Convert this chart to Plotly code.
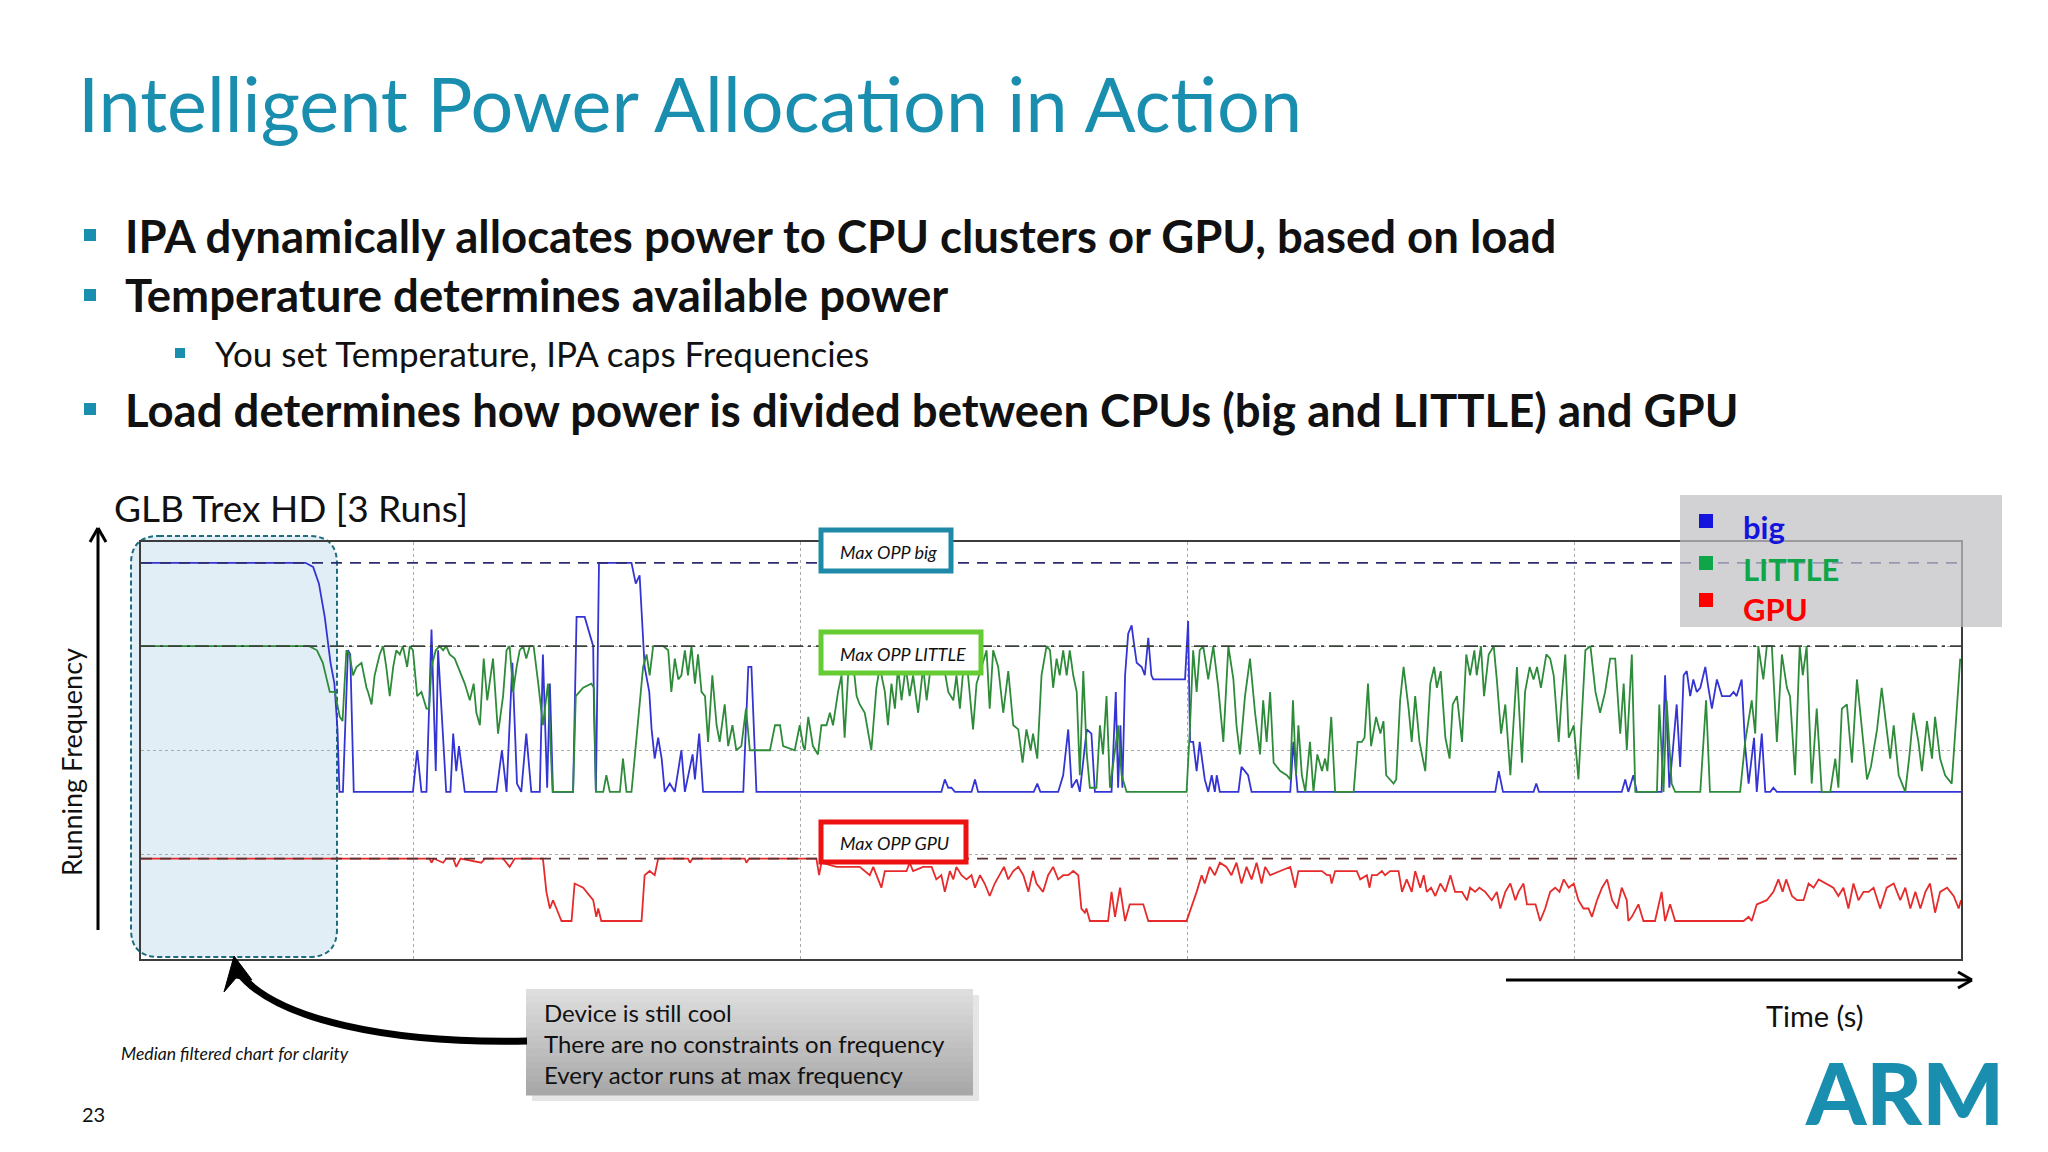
import plotly.graph_objects as go

# ---------------- data (time in s, normalised running frequency) ----------------
BIG_T = [29.5, 72, 74, 75.5, 77, 78.5, 79.5, 80.3, 80.8, 81.7, 83.0, 83.6, 84.5, 99.8, 100.9, 102.0,
         103.3, 104.6, 105.7, 106.3, 108.4, 109.5, 110.2, 111.0, 111.7, 113.2, 121.4, 122.8, 124.0,
         125.5, 126.7, 127.8, 129.1, 130.4, 132.6, 133.4, 134.5, 135.2, 136.0, 141.2, 142.1, 144.2,
         146.4, 146.6, 147.1, 147.9, 156.3, 157.4, 158.4, 159.7, 160.9, 161.5, 162.3, 163.2, 164.1,
         164.9, 166.2, 167.5, 169.2, 170.1, 172.1, 172.7, 173.8, 174.8, 185.2, 186.5, 187.3, 188.6,
         236.4, 237.3, 238.2, 239.0, 239.9, 244.2, 245.1, 245.9, 260.3, 261.2, 262.0, 266.6, 267.9,
         269.2, 270.1, 271.4, 272.2, 274.0, 275.2, 276.1, 280.4, 281.5, 282.1, 282.7, 283.2, 283.9,
         284.7, 285.6, 286.0, 286.9, 288.2, 289.0, 289.9, 290.7, 291.2, 299.4, 300.2, 300.7, 301.5,
         302.4, 303.2, 304.5, 305.4, 306.3, 307.1, 307.6, 308.4, 313.2, 314.0, 314.9, 315.7, 316.6,
         326.6, 327.4, 328.5, 379.6, 380.5, 381.6, 389.5, 390.2, 390.9, 412.3, 413.2, 414.0, 415.3,
         416.2, 422.6, 423.5, 424.6, 425.5, 426.5, 427.4, 428.3, 429.1, 430.0, 430.8, 431.7, 432.6,
         433.9, 434.7, 435.6, 436.9, 438.2, 440.3, 441.2, 442.0, 443.3, 444.2, 445.1, 446.5, 447.2,
         448.5, 449.4, 450.7, 451.5, 452.4, 500]
BIG_V = [0.95, 0.95, 0.94, 0.90, 0.82, 0.71, 0.66, 0.55, 0.40, 0.40, 0.74, 0.73, 0.40, 0.40, 0.50, 0.40,
         0.40, 0.79, 0.45, 0.74, 0.40, 0.40, 0.54, 0.45, 0.51, 0.40, 0.40, 0.50, 0.40,
         0.71, 0.42, 0.40, 0.54, 0.40, 0.40, 0.73, 0.41, 0.66, 0.40, 0.40, 0.82, 0.82,
         0.75, 0.60, 0.40, 0.95, 0.95, 0.90, 0.92, 0.70, 0.64, 0.55, 0.48, 0.53, 0.48,
         0.40, 0.42, 0.40, 0.50, 0.40, 0.49, 0.43, 0.54, 0.40, 0.40, 0.70, 0.70, 0.40,
         0.40, 0.43, 0.41, 0.41, 0.40, 0.40, 0.43, 0.40, 0.40, 0.42, 0.40, 0.40, 0.44,
         0.55, 0.41, 0.43, 0.40, 0.55, 0.54, 0.40, 0.40, 0.64, 0.41, 0.56, 0.41, 0.68,
         0.78, 0.80, 0.77, 0.71, 0.70, 0.68, 0.77, 0.68, 0.67, 0.67, 0.81, 0.52, 0.52,
         0.45, 0.52, 0.43, 0.40, 0.44, 0.40, 0.44, 0.40, 0.40, 0.46, 0.45, 0.44, 0.40,
         0.40, 0.52, 0.40, 0.40, 0.45, 0.40, 0.40, 0.42, 0.40, 0.40, 0.43, 0.40, 0.44,
         0.40, 0.40, 0.68, 0.41, 0.50, 0.61, 0.46, 0.68, 0.69, 0.63, 0.67, 0.64, 0.65,
         0.70, 0.65, 0.60, 0.67, 0.63, 0.63, 0.64, 0.63, 0.67, 0.51, 0.42, 0.53, 0.40,
         0.54, 0.40, 0.40, 0.41, 0.40, 0.40]

LITTLE_T = [29.5, 73, 75, 76.5, 78.3, 79.6, 80.9, 81.6, 82.6, 83.4, 84.3, 85.2, 86.5, 86.9, 87.8, 88.2,
            89.1, 89.9, 91.2, 92.1, 92.9, 93.8, 94.7, 95.5, 96.4, 97.2, 98.3, 99.0, 99.8, 100.9, 102.0,
            103.3, 104.0, 104.6, 105.7, 106.7, 107.6, 108.4, 109.3, 110.6, 111.9, 113.2, 114.5, 115.5,
            116.2, 117.1, 118.1, 119.0, 120.5, 121.8, 123.1, 124.0, 124.8, 125.7, 126.6, 127.4, 128.3,
            129.1, 130.0, 131.0, 132.2, 133.4, 134.7, 135.9, 141.2, 141.9, 143.8, 145.9, 146.6, 147.1,
            149.0, 149.8, 150.7, 153.3, 154.1, 155.0, 156.3, 158.0, 159.3, 160.2, 161.0, 161.9, 164.5,
            165.8, 166.6, 167.5, 168.4, 169.2, 170.1, 170.9, 171.8, 172.7, 173.5, 174.4, 175.3, 176.1,
            177.2, 178.3, 179.1, 180.4, 181.3, 182.4, 183.4, 184.7, 185.9, 186.9, 192.1, 193.4, 194.7,
            195.5, 198.5, 199.8, 200.7, 201.1, 202.0, 203.2, 204.5, 205.4, 206.7, 207.6, 208.4, 209.7,
            210.6, 211.4, 212.3, 213.6, 214.5, 215.3, 216.6, 218.3, 219.6, 220.5, 221.8, 222.6, 223.5,
            224.4, 225.2, 226.1, 227.2, 228.2, 229.1, 230.4, 231.7, 232.6, 233.9, 235.1, 236.9, 238.2,
            239.5, 240.3, 241.2, 242.5, 243.3, 244.6, 245.5, 246.8, 248.1, 248.9, 249.8, 251.1, 252.4,
            253.7, 255.0, 256.3, 257.4, 258.4, 259.5, 260.1, 261.2, 262.3, 263.6, 264.5, 265.3, 266.2,
            267.0, 267.9, 268.8, 269.6, 270.5, 271.4, 272.2, 273.1, 274.0, 274.8, 276.5, 277.4, 278.2,
            279.1, 280.0, 281.3, 282.1, 283.0, 284.3, 299.8, 300.7, 301.5, 302.4, 303.2, 304.1, 305.4,
            306.7, 308.0, 309.3, 310.6, 311.9, 312.7, 313.6, 314.9, 316.2, 317.5, 318.8, 319.6, 320.5,
            321.4, 322.3, 324.0, 325.7, 326.6, 327.3, 328.1, 328.7, 329.6, 330.5, 331.7, 332.6, 333.6,
            334.8, 335.6, 336.2, 337.2, 338.2, 343.0, 344.0, 345.1, 345.8, 346.7, 347.5, 348.8, 349.9,
            350.7, 351.4, 353.3, 354.0, 355.0, 355.9, 357.2, 358.0, 358.9, 360.0, 361.5, 362.8, 363.8,
            364.5, 365.5, 366.7, 367.8, 368.6, 369.7, 371.0, 372.1, 373.1, 374.2, 374.8, 375.9, 376.7,
            377.9, 379.2, 380.0, 381.1, 382.2, 383.5, 385.2, 386.5, 387.3, 388.5, 389.5, 390.4, 391.4,
            392.8, 393.8, 394.7, 396.0, 396.7, 397.7, 398.6, 399.9, 401.1, 402.9, 404.2, 405.5, 406.7,
            408.0, 409.3, 410.6, 411.9, 412.8, 413.6, 414.9, 415.8, 421.4, 422.0, 423.1, 423.9, 425.2,
            426.1, 432.6, 434.1, 435.1, 442.9, 444.2, 445.9, 446.8, 447.6, 448.9, 449.8, 451.1, 452.4,
            453.7, 455.0, 455.8, 457.1, 458.3, 459.1, 460.1, 461.4, 462.7, 464.0, 466.2, 467.5, 468.3,
            469.2, 470.5, 471.8, 473.1, 473.9, 474.8, 475.7, 476.7, 478.3, 479.5, 480.7, 481.7, 482.6,
            483.9, 485.6, 486.7, 487.7, 489.0, 489.9, 491.2, 492.5, 493.3, 494.6, 495.9, 497.6, 499.8]
LITTLE_V = [0.75, 0.75, 0.74, 0.71, 0.64, 0.64, 0.58, 0.57, 0.74, 0.73, 0.68, 0.70, 0.71, 0.69, 0.65, 0.64,
            0.61, 0.68, 0.73, 0.75, 0.70, 0.63, 0.70, 0.74, 0.73, 0.75, 0.70, 0.75, 0.74, 0.63, 0.64,
            0.60, 0.60, 0.70, 0.74, 0.75, 0.74, 0.75, 0.73, 0.72, 0.69, 0.66, 0.62, 0.66,
            0.59, 0.56, 0.72, 0.62, 0.72, 0.54, 0.63, 0.74, 0.75, 0.64, 0.70, 0.74, 0.75,
            0.72, 0.75, 0.75, 0.66, 0.56, 0.66, 0.40, 0.40, 0.63, 0.65, 0.66, 0.65, 0.40,
            0.40, 0.44, 0.40, 0.40, 0.48, 0.40, 0.40, 0.56, 0.70, 0.73, 0.68, 0.75, 0.75,
            0.74, 0.64, 0.72, 0.67, 0.68, 0.74, 0.68, 0.75, 0.66, 0.73, 0.64, 0.63, 0.52,
            0.68, 0.56, 0.52, 0.61, 0.51, 0.56, 0.50, 0.51, 0.60, 0.50, 0.50, 0.56, 0.56,
            0.51, 0.50, 0.56, 0.51, 0.50, 0.58, 0.51, 0.49, 0.56, 0.56, 0.59, 0.56, 0.64,
            0.68, 0.53, 0.68, 0.71, 0.63, 0.61, 0.59, 0.50, 0.65, 0.70, 0.64, 0.56, 0.66,
            0.60, 0.70, 0.62, 0.70, 0.63, 0.68, 0.59, 0.70, 0.62, 0.72, 0.74, 0.71, 0.64,
            0.62, 0.68, 0.60, 0.74, 0.68, 0.55, 0.66, 0.70, 0.74, 0.60, 0.74, 0.70, 0.59,
            0.69, 0.56, 0.55, 0.47, 0.55, 0.50, 0.54, 0.48, 0.68, 0.75, 0.74, 0.65, 0.72,
            0.68, 0.74, 0.68, 0.74, 0.68, 0.64, 0.44, 0.69, 0.49, 0.41, 0.41, 0.56, 0.49,
            0.63, 0.41, 0.50, 0.56, 0.44, 0.40, 0.40, 0.56, 0.74, 0.64, 0.74, 0.75, 0.67,
            0.75, 0.65, 0.52, 0.75, 0.67, 0.56, 0.49, 0.63, 0.72, 0.59, 0.49, 0.62, 0.52,
            0.64, 0.47, 0.45, 0.44, 0.43, 0.62, 0.44, 0.56, 0.44, 0.40, 0.52, 0.40, 0.49,
            0.45, 0.48, 0.45, 0.58, 0.40, 0.40, 0.52, 0.52, 0.53, 0.66, 0.51, 0.58, 0.54,
            0.57, 0.44, 0.42, 0.43, 0.62, 0.70, 0.60, 0.52, 0.63, 0.52, 0.45, 0.66, 0.70,
            0.65, 0.69, 0.53, 0.48, 0.61, 0.63, 0.52, 0.73, 0.68, 0.74, 0.68, 0.75, 0.63,
            0.73, 0.75, 0.67, 0.54, 0.61, 0.44, 0.70, 0.47, 0.64, 0.70, 0.67, 0.70, 0.65,
            0.73, 0.72, 0.68, 0.52, 0.62, 0.73, 0.53, 0.56, 0.43, 0.74, 0.75, 0.64, 0.59,
            0.64, 0.72, 0.72, 0.54, 0.66, 0.50, 0.73, 0.40, 0.40, 0.61, 0.40, 0.62, 0.42,
            0.40, 0.40, 0.62, 0.40, 0.40, 0.52, 0.62, 0.54, 0.75, 0.67, 0.75, 0.75, 0.52,
            0.73, 0.65, 0.63, 0.44, 0.75, 0.68, 0.75, 0.42, 0.60, 0.40, 0.40, 0.48, 0.41,
            0.60, 0.61, 0.47, 0.67, 0.60, 0.51, 0.43, 0.46, 0.55, 0.65, 0.55, 0.48, 0.56,
            0.44, 0.40, 0.49, 0.59, 0.52, 0.45, 0.57, 0.48, 0.58, 0.48, 0.44, 0.42, 0.72]

GPU_T = [29.5, 104.1, 104.6, 105.2, 107.6, 108.4, 110.2, 111.0, 112.1, 117.5, 118.4, 123.1, 124.8, 126.1,
         133.4, 134.3, 135.2, 136.0, 136.9, 138.2, 140.8, 141.6, 143.8, 146.4, 147.2, 147.7, 148.5, 158.9,
         159.7, 161.0, 162.3, 163.2, 170.9, 171.4, 172.1, 185.6, 186.0, 186.7, 199.8, 204.1, 204.8, 205.4,
         209.3, 215.3, 217.9, 218.8, 220.9, 221.8, 227.4, 228.2, 229.1, 231.7, 233.9, 235.1, 236.4, 237.3,
         238.6, 239.5, 240.3, 241.6, 242.9, 244.2, 245.1, 246.4, 247.6, 248.9, 250.2, 251.5, 252.6, 253.7,
         255.0, 256.3, 257.6, 258.9, 260.1, 261.0, 262.7, 264.0, 265.3, 266.6, 267.9, 269.2, 270.5, 271.8,
         272.6, 273.5, 273.9, 274.8, 279.5, 280.4, 281.3, 282.6, 283.9, 285.1, 288.6, 289.9, 299.8, 302.4,
         303.7, 304.5, 305.8, 307.1, 308.4, 310.1, 311.4, 312.7, 314.0, 315.3, 316.6, 317.9, 319.2, 320.1,
         321.4, 324.0, 326.6, 327.9, 328.7, 334.8, 336.1, 336.9, 337.3, 338.2, 343.8, 344.7, 346.4, 347.1,
         347.7, 349.0, 350.3, 351.1, 352.4, 354.6, 355.5, 356.7, 358.0, 358.9, 360.2, 361.1, 361.9, 363.0,
         364.1, 365.4, 366.7, 368.0, 369.2, 371.0, 372.3, 373.1, 374.4, 375.5, 377.0, 378.7, 380.0, 380.9,
         382.2, 383.5, 384.8, 385.6, 386.9, 387.8, 390.0, 391.2, 392.5, 393.8, 395.1, 396.2, 397.3, 398.6,
         399.9, 401.1, 402.4, 403.7, 404.6, 405.9, 407.2, 408.5, 409.8, 411.1, 412.3, 413.6, 414.0, 414.9,
         416.6, 417.9, 420.9, 422.6, 423.5, 424.8, 426.1, 443.8, 445.1, 445.9, 447.2, 449.8, 451.5, 452.8,
         453.9, 454.8, 456.3, 457.6, 459.3, 460.6, 461.9, 463.2, 465.3, 467.0, 468.3, 469.6, 470.9, 472.2,
         473.5, 474.8, 476.1, 477.4, 479.1, 480.8, 482.6, 484.3, 485.6, 486.9, 488.2, 489.5, 490.8, 492.0,
         493.3, 494.6, 496.4, 498.1, 499.4, 500.0]
GPU_V = [0.24, 0.24, 0.23, 0.24, 0.23, 0.24, 0.24, 0.22, 0.24, 0.23, 0.24, 0.24, 0.22, 0.24,
         0.24, 0.16, 0.12, 0.14, 0.12, 0.09, 0.09, 0.18, 0.17, 0.14, 0.10, 0.12, 0.09, 0.09,
         0.20, 0.21, 0.20, 0.24, 0.24, 0.23, 0.24, 0.24, 0.23, 0.24, 0.24, 0.24, 0.20, 0.23,
         0.22, 0.22, 0.20, 0.22, 0.17, 0.21, 0.21, 0.23, 0.21, 0.22, 0.22, 0.19, 0.20, 0.16,
         0.21, 0.19, 0.22, 0.20, 0.19, 0.20, 0.17, 0.20, 0.18, 0.15, 0.18, 0.20, 0.22, 0.19,
         0.21, 0.22, 0.20, 0.16, 0.21, 0.18, 0.16, 0.20, 0.22, 0.19, 0.20, 0.20, 0.21, 0.20,
         0.12, 0.11, 0.12, 0.09, 0.09, 0.16, 0.10, 0.17, 0.09, 0.13, 0.13, 0.09, 0.09, 0.16,
         0.20, 0.18, 0.22, 0.20, 0.23, 0.22, 0.20, 0.23, 0.18, 0.22, 0.19, 0.23, 0.18, 0.22,
         0.20, 0.21, 0.22, 0.17, 0.21, 0.21, 0.20, 0.20, 0.18, 0.21, 0.21, 0.19, 0.20, 0.17,
         0.20, 0.20, 0.21, 0.20, 0.21, 0.21, 0.16, 0.19, 0.16, 0.21, 0.17, 0.20, 0.16, 0.17,
         0.15, 0.18, 0.16, 0.20, 0.16, 0.16, 0.14, 0.17, 0.16, 0.17, 0.16, 0.14, 0.16, 0.12,
         0.16, 0.18, 0.14, 0.16, 0.18, 0.13, 0.13, 0.09, 0.12, 0.16, 0.17, 0.16, 0.19, 0.17,
         0.18, 0.14, 0.12, 0.12, 0.10, 0.14, 0.17, 0.19, 0.14, 0.12, 0.17, 0.14, 0.09, 0.10,
         0.13, 0.09, 0.09, 0.16, 0.09, 0.13, 0.09, 0.09, 0.10, 0.09, 0.13, 0.14, 0.16, 0.19,
         0.16, 0.19, 0.15, 0.14, 0.14, 0.18, 0.17, 0.19, 0.18, 0.17, 0.15, 0.17, 0.12, 0.18,
         0.14, 0.16, 0.16, 0.17, 0.12, 0.17, 0.18, 0.14, 0.17, 0.12, 0.16, 0.12, 0.16, 0.18,
         0.11, 0.16, 0.17, 0.15, 0.12, 0.14]

MAX_OPP = {"big": 0.95, "LITTLE": 0.75, "GPU": 0.24}
T_RANGE = [29.5, 500]
SERIES_NAMES = ["big", "LITTLE", "GPU"]
BULLETS = ["IPA dynamically allocates power to CPU clusters or GPU, based on load",
           "Temperature determines available power",
           "You set Temperature, IPA caps Frequencies",
           "Load determines how power is divided between CPUs (big and LITTLE) and GPU"]
CALLOUT = ["Device is still cool", "There are no constraints on frequency", "Every actor runs at max frequency"]

# ---------------- layout helpers ----------------
# the page body has an 8px margin, so the figure is 2040x1144 placed at (8, 8)
OFF = 8
FW, FH = 2040, 1144
def px(x): return (x - OFF) / FW
def py(y): return 1 - (y - OFF) / FH

TEAL = "#1a8eae"
FONT = "Lato"
C_BIG, C_LIT, C_GPU = "#3434d4", "#2e8b3a", "#e52b2b"

fig = go.Figure()
fig.add_trace(go.Scatter(x=BIG_T, y=BIG_V, mode="lines", line=dict(color=C_BIG, width=1.8)))
fig.add_trace(go.Scatter(x=LITTLE_T, y=LITTLE_V, mode="lines", line=dict(color=C_LIT, width=1.8)))
fig.add_trace(go.Scatter(x=GPU_T, y=GPU_V, mode="lines", line=dict(color=C_GPU, width=1.8)))
fig.add_trace(go.Scatter(x=T_RANGE, y=[MAX_OPP["big"]] * 2, mode="lines",
                         line=dict(color="#2c2c70", width=1.8, dash="11px,8px")))
fig.add_trace(go.Scatter(x=T_RANGE, y=[MAX_OPP["LITTLE"]] * 2, mode="lines",
                         line=dict(color="#3a423a", width=1.8, dash="14px,5px,3px,5px")))
fig.add_trace(go.Scatter(x=T_RANGE, y=[MAX_OPP["GPU"]] * 2, mode="lines",
                         line=dict(color="#5b3030", width=1.8, dash="11px,8px")))

shapes = []
ann = []

def rect(x0, y0, x1, y1, fill, line=None, lw=0, layer="above", dash=None):
    d = dict(type="rect", xref="paper", yref="paper", x0=px(x0), x1=px(x1), y0=py(y1), y1=py(y0),
             fillcolor=fill, layer=layer, line=dict(width=lw, color=line or fill))
    if dash:
        d["line"]["dash"] = dash
    shapes.append(d)

def seg(x0, y0, x1, y1, color="black", w=2):
    shapes.append(dict(type="line", xref="paper", yref="paper", x0=px(x0), y0=py(y0), x1=px(x1), y1=py(y1),
                       line=dict(color=color, width=w), layer="above"))

def text(x, y, s, size, color="#111", xanchor="left", yanchor="middle", angle=0):
    ann.append(dict(x=px(x), y=py(y), xref="paper", yref="paper", text=s, showarrow=False,
                    xanchor=xanchor, yanchor=yanchor, textangle=angle,
                    font=dict(family=FONT, size=size, color=color)))

# Title
text(76, 103, "Intelligent Power Allocation in Action", 75.5, TEAL)

# Bullets
bul_y = [235, 295, 353, 409]
for i, (s, y) in enumerate(zip(BULLETS, bul_y)):
    if i == 2:
        rect(175, y - 5, 185, y + 5, TEAL)
        text(213, y, s, 35, "#111")
    else:
        rect(84, y - 6, 96, y + 6, TEAL)
        text(123, y, "<b>" + s + "</b>", 45.5, "#111")

# Chart title / axes labels
text(112, 507, "GLB Trex HD [3 Runs]", 37, "#111")
text(71, 762, "Running Frequency", 27, "#111", xanchor="center", angle=-90)
text(1814, 1015, "Time (s)", 29, "#111", xanchor="center")
text(119, 1053, "<i>Median filtered chart for clarity</i>", 17.6, "#111")
text(80, 1114, "23", 20, "#111")

# Y arrow
seg(98, 930, 98, 530, w=3)
seg(98, 528, 90, 542, w=3)
seg(98, 528, 106, 542, w=3)
# X arrow
seg(1506, 980, 1970, 980, w=3)
seg(1972, 980, 1958, 972, w=3)
seg(1972, 980, 1958, 988, w=3)

# Highlight rounded rectangle
def rounded_path(x0, y0, x1, y1, r):
    rx, ry = r / FW, r / FH
    X0, X1, Y0, Y1 = px(x0), px(x1), py(y1), py(y0)
    return (f"M{X0+rx},{Y1} L{X1-rx},{Y1} Q{X1},{Y1} {X1},{Y1-ry} L{X1},{Y0+ry} "
            f"Q{X1},{Y0} {X1-rx},{Y0} L{X0+rx},{Y0} Q{X0},{Y0} {X0},{Y0+ry} "
            f"L{X0},{Y1-ry} Q{X0},{Y1} {X0+rx},{Y1} Z")

shapes.append(dict(type="path", xref="paper", yref="paper", path=rounded_path(131, 536, 337, 957, 28),
                   fillcolor="#e2eef5", layer="below", line=dict(color="#1d6c80", width=2, dash="5px,3px")))

# Max OPP label boxes
for (x0, y0, x1, y1, col, s) in [(821, 530, 951, 571, "#1f8aa8", "Max OPP big"),
                                 (821, 632, 981, 673, "#66cc33", "Max OPP LITTLE"),
                                 (821, 822, 966, 862, "#ee1111", "Max OPP GPU")]:
    rect(x0, y0, x1, y1, "white", col, 5)
    text(x0 + 17, (y0 + y1) / 2 + 1, "<i>" + s + "</i>", 18, "#111")

# Legend box
rect(1680, 495, 2002, 627, "rgba(192,192,197,0.72)")
leg_cols = [("#1414dc", 521, 527), ("#0fa64a", 563, 569), ("#ff0000", 600, 609)]
for name, (col, sy, ty) in zip(SERIES_NAMES, leg_cols):
    rect(1699, sy - 7, 1713, sy + 7, col)
    text(1741, ty, "<b>" + name + "</b>", 31, col)

# Callout box with gradient and shadow
rect(532, 995, 979, 1101, "rgba(0,0,0,0.10)")
bx0, by0, bx1, by1 = 526, 989, 973, 1095
n = 16
for i in range(n):
    t = i / (n - 1)
    g = int(222 - t * 54)
    rect(bx0, by0 + (by1 - by0) * i / n, bx1, by0 + (by1 - by0) * (i + 1) / n + 0.5, f"rgb({g},{g},{g})")
for s, y in zip(CALLOUT, [1012, 1043, 1074]):
    text(542, y, s, 24, "#111")

# Curved arrow
shapes.append(dict(type="path", xref="paper", yref="paper", layer="above",
                   path=f"M{px(527)},{py(1041)} C{px(390)},{py(1044)} {px(275)},{py(1020)} {px(238)},{py(972)}",
                   line=dict(color="black", width=7)))
shapes.append(dict(type="path", xref="paper", yref="paper", layer="above",
                   path=f"M{px(234)},{py(956)} L{px(224)},{py(992)} L{px(236)},{py(978)} L{px(252)},{py(980)} Z",
                   fillcolor="black", line=dict(color="black", width=1)))

# ARM logo
ann.append(dict(x=px(1904), y=py(1091), xref="paper", yref="paper", text="ARM", showarrow=False,
                xanchor="center", yanchor="middle",
                font=dict(family=FONT, size=86, color=TEAL, weight=900)))

fig.update_layout(
    width=FW, height=FH, margin=dict(l=0, r=0, t=0, b=0),
    paper_bgcolor="white", plot_bgcolor="rgba(0,0,0,0)", showlegend=False,
    shapes=shapes, annotations=ann,
    xaxis=dict(domain=[px(141), px(1961)], range=T_RANGE, showticklabels=False, ticks="",
               showgrid=True, gridcolor="#aaaaaa", griddash="dot", gridwidth=1, tick0=0, dtick=100,
               zeroline=False, showline=True, mirror=True, linecolor="#3c3c3c", linewidth=2),
    yaxis=dict(domain=[py(958.5), py(542)], range=[0, 1], showticklabels=False, ticks="",
               showgrid=True, gridcolor="#aaaaaa", griddash="dot", gridwidth=1, tick0=0, dtick=0.25,
               zeroline=False, showline=True, mirror=True, linecolor="#3c3c3c", linewidth=2),
)

fig.write_html("out.html")
